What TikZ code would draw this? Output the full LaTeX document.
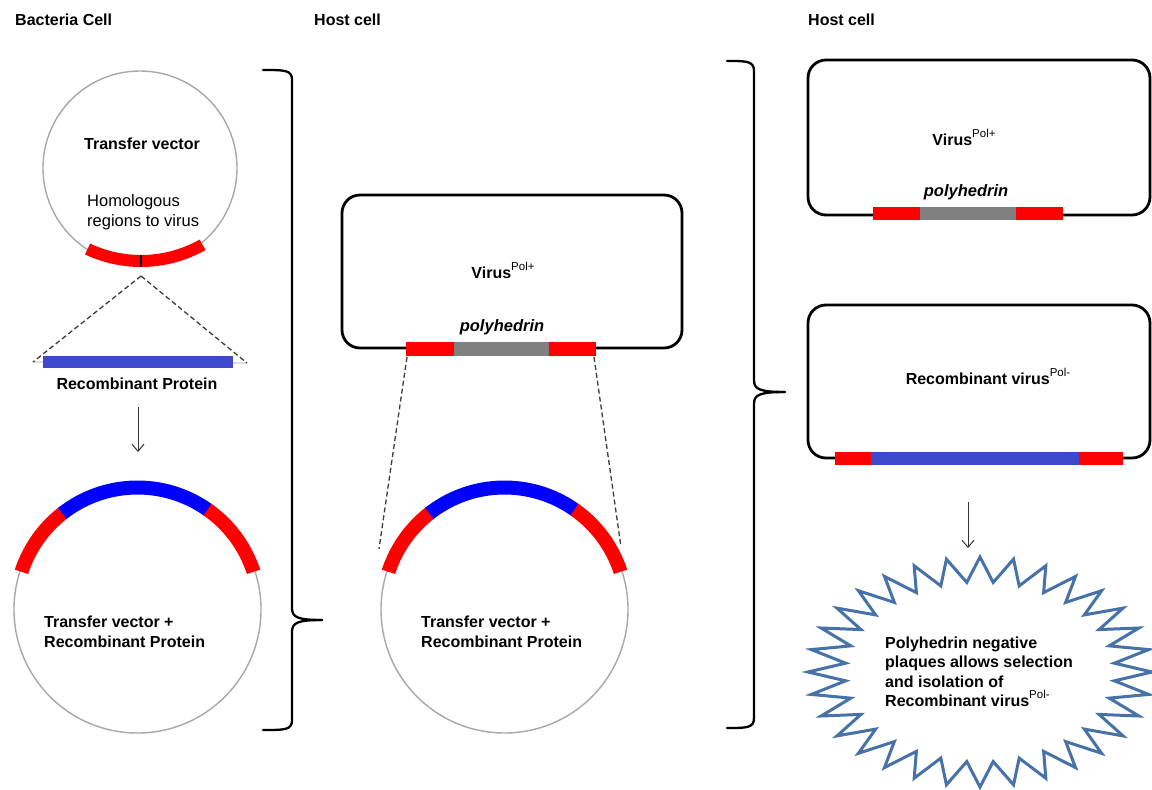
\documentclass[tikz,border=0pt]{standalone}
\usepackage{fontspec}
\setmainfont{Liberation Sans}
\usetikzlibrary{arrows.meta,calc}
\definecolor{vred}{RGB}{255,0,0}
\definecolor{vblue}{RGB}{0,0,255}
\definecolor{barblue}{RGB}{62,72,204}
\definecolor{vgray}{RGB}{128,128,128}
\definecolor{ringgray}{RGB}{168,168,168}
\definecolor{starblue}{RGB}{70,114,168}
\definecolor{dashgray}{RGB}{60,60,60}
\newcommand\annsec[5]{% center, r1, r2, a1, a2
  ($(#1)+(#4:#3)$) arc[start angle=#4, end angle=#5, radius=#3] -- ($(#1)+(#5:#2)$) arc[start angle=#5, end angle=#4, radius=#2] -- cycle}
\newcommand\supx[1]{\raisebox{0.5em}{\fontsize{11.5}{12}\selectfont\mdseries #1}}
\begin{document}
\begin{tikzpicture}[x=1pt,y=-1pt,
  lbl/.style={font=\fontsize{16}{19.5}\selectfont\bfseries, inner sep=0pt},
  lblreg/.style={font=\fontsize{16.5}{20}\selectfont, inner sep=0pt},
  ring/.style={circle, draw=ringgray, line width=1.4pt, inner sep=0pt},
  cellbox/.style={draw=black, line width=2.8pt, rounded corners=18pt, inner sep=0pt},
  dashline/.style={draw=dashgray, dash pattern=on 5pt off 3pt, line width=1.3pt},
  flow/.style={draw=black!80, line width=1pt, -{Straight Barb[length=7pt,width=12pt]}},
  brace/.style={draw=black, line width=2.3pt, line cap=round, line join=round},
  starline/.style={draw=starblue, line width=3pt, fill=white, line join=miter},
]
\fill[white] (0,0) rectangle (1152,790);
\useasboundingbox (0,0) rectangle (1152,790);

% headers
\node[lbl, anchor=west] (h1) at (15,20) {Bacteria Cell};
\node[lbl, anchor=west] (h2) at (314,20) {Host cell};
\node[lbl, anchor=west] (h3) at (808,20) {Host cell};

% ---------- left column ----------
\node[ring, minimum size=194pt] (tv) at (140,168) {};
\coordinate (tvarc) at (141,136);
\fill[vred] \annsec{tvarc}{119}{131}{60.5}{115.3};
\draw[black, line width=1.3pt] ($(tvarc)+(90:119)$) -- ($(tvarc)+(90:131)$);
\node[lbl] (tvlab) at (142,144) {Transfer vector};
\node[lblreg, anchor=west, align=left] (homo) at (87,212) {Homologous\\regions to virus};

\coordinate (apex) at (141,276);
\coordinate (rpl) at (33,362);
\coordinate (rpr) at (247,363);
\draw[black!35, line width=0.8pt] (rpl) -- (rpr);
\fill[barblue] (43,356) rectangle (233,368);
\draw[dashline] (apex) -- (rpl);
\draw[dashline] (apex) -- (rpr);
\node[lbl] (rp) at (137,384) {Recombinant Protein};

\coordinate (a1s) at (138,407);
\coordinate (a1e) at (138,452);
\draw[flow] (a1s) -- (a1e);

\node[ring, minimum size=247pt] (bc1) at (137.5,609.5) {};
\fill[vred] \annsec{bc1.center}{115}{129}{198}{232.5};
\fill[vblue] \annsec{bc1.center}{115}{129}{232}{305.5};
\fill[vred] \annsec{bc1.center}{115}{129}{305}{342};
\node[lbl, anchor=west, align=left] (bc1lab) at (44,632) {Transfer vector +\\Recombinant Protein};

% left brace
\coordinate (lbt) at (263,70);
\coordinate (lbtip) at (322,620);
\coordinate (lbb) at (263,730);
\draw[brace] (lbt) .. controls (285,70) and (292,70) .. (292,80) -- (292,608) .. controls (292,617) and (297,620) .. (lbtip);
\draw[brace] (lbtip) .. controls (297,620) and (292,623) .. (292,632) -- (292,720) .. controls (292,730) and (285,730) .. (lbb);

% ---------- middle column ----------
\node[cellbox, minimum width=340pt, minimum height=153pt] (mv) at (512,271.5) {};
\fill[vred] (406,342) rectangle (454,356);
\fill[vgray] (454,342) rectangle (549,356);
\fill[vred] (549,342) rectangle (596,356);
\node[lbl] (mvlab) at (503,270) {Virus\supx{Pol+}};
\node[lbl, font=\fontsize{16.5}{20}\selectfont\bfseries\itshape] (mpoly) at (502,327) {polyhedrin};

\coordinate (mbl) at (407,357);
\coordinate (mbr) at (594,357);
\coordinate (mcl) at (379,549);
\coordinate (mcr) at (621,547);
\draw[dashline] (mbl) -- (mcl);
\draw[dashline] (mbr) -- (mcr);

\node[ring, minimum size=247pt] (bc2) at (504.5,609.5) {};
\fill[vred] \annsec{bc2.center}{115}{129}{198}{232.5};
\fill[vblue] \annsec{bc2.center}{115}{129}{232}{305.5};
\fill[vred] \annsec{bc2.center}{115}{129}{305}{342};
\node[lbl, anchor=west, align=left] (bc2lab) at (421,632) {Transfer vector +\\Recombinant Protein};

% right brace
\coordinate (rbt) at (727,61);
\coordinate (rbtip) at (785,392);
\coordinate (rbb) at (727,728);
\draw[brace] (rbt) .. controls (747,61) and (754,61) .. (754,71) -- (754,380) .. controls (754,389) and (759,392) .. (rbtip);
\draw[brace] (rbtip) .. controls (759,392) and (754,395) .. (754,404) -- (754,718) .. controls (754,728) and (747,728) .. (rbb);

% ---------- right column ----------
\node[cellbox, minimum width=342pt, minimum height=155pt] (rv1) at (979,137.5) {};
\fill[vred] (873,207) rectangle (920,220);
\fill[vgray] (920,207) rectangle (1016,220);
\fill[vred] (1016,207) rectangle (1063,220);
\node[lbl] (rv1lab) at (964,137) {Virus\supx{Pol+}};
\node[lbl, font=\fontsize{16.5}{20}\selectfont\bfseries\itshape] (rpoly) at (966,192) {polyhedrin};

\node[cellbox, minimum width=342pt, minimum height=153pt] (rv2) at (979,381.5) {};
\fill[vred] (835,452) rectangle (871,465);
\fill[barblue] (871,452) rectangle (1079,465);
\fill[vred] (1079,452) rectangle (1123,465);
\node[lbl] (rv2lab) at (988,376) {Recombinant virus\supx{Pol-}};

\coordinate (a2s) at (968,502);
\coordinate (a2e) at (968,548);
\draw[flow] (a2s) -- (a2e);

% starburst
\draw[starline] plot[samples at={0,...,63}, variable=\k]
  ({980+(172-37*mod(\k,2))*cos(\k*5.625)}, {672+(115-25*mod(\k,2))*sin(\k*5.625)}) -- cycle;
\node[lbl, anchor=west, align=left] (starlab) at (885,672) {Polyhedrin negative\\plaques allows selection\\and isolation of\\Recombinant virus\supx{Pol-}};
\end{tikzpicture}
\end{document}
